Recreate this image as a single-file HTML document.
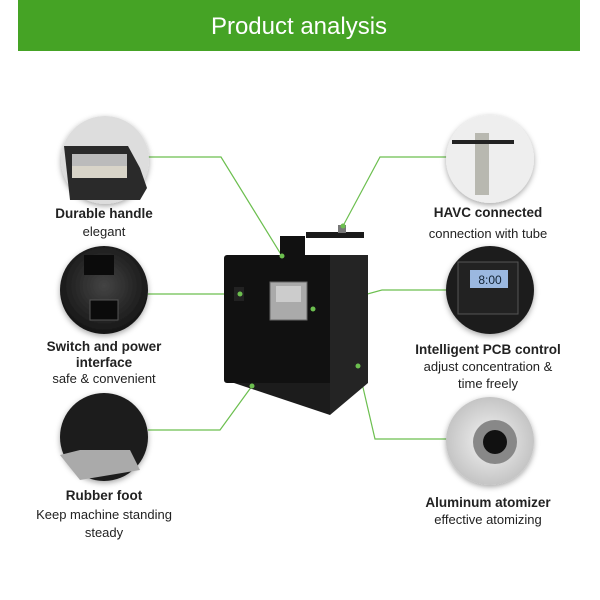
<!DOCTYPE html>
<html><head><meta charset="utf-8"><style>
html,body{margin:0;padding:0;background:#fff;width:600px;height:600px;overflow:hidden}
svg{display:block}
text{font-family:"Liberation Sans",sans-serif;fill:#222;text-anchor:middle}
.b{font-weight:bold;font-size:13.5px}
.n{font-size:13px}
</style></head><body>
<svg width="600" height="600" viewBox="0 0 600 600">
<defs>
<radialGradient id="cg" cx="50%" cy="45%" r="60%"><stop offset="0" stop-color="#444"/><stop offset="1" stop-color="#111"/></radialGradient>
<radialGradient id="lg" cx="50%" cy="50%" r="60%"><stop offset="0" stop-color="#f4f4f4"/><stop offset="1" stop-color="#bbb"/></radialGradient>
<filter id="sh" x="-30%" y="-30%" width="160%" height="160%"><feDropShadow dx="0" dy="2" stdDeviation="3" flood-color="#000" flood-opacity="0.35"/></filter>
</defs>
<rect x="18" y="0" width="562" height="51" fill="#45a325"/>
<text x="299" y="34" style="fill:#fff;font-size:24px">Product analysis</text>

<g stroke="#6cbf4f" stroke-width="1.2" fill="none">
<polyline points="148,157 221,157 282,256"/>
<polyline points="448,157 380,157 343,226"/>
<polyline points="148,294 240,294"/>
<polyline points="448,290 382,290 313,309"/>
<polyline points="148,430 220,430 252,386"/>
<polyline points="448,439 375,439 358,366"/>
</g>

<g filter="url(#sh)">
<circle cx="105" cy="160" r="44" fill="#ddd"/>
<circle cx="104" cy="290" r="44" fill="url(#cg)"/>
<circle cx="104" cy="437" r="44" fill="#1a1a1a"/>
<circle cx="490" cy="159" r="44" fill="#eee"/>
<circle cx="490" cy="290" r="44" fill="#1c1c1c"/>
<circle cx="490" cy="441" r="44" fill="url(#lg)"/>
</g>
<path d="M64,146 L128,146 L140,168 L147,188 L140,200 L70,200 Z" fill="#2a2a2a"/>
<rect x="72" y="154" width="55" height="12" fill="#bbb"/>
<rect x="72" y="166" width="55" height="12" fill="#d8d4c8"/>
<rect x="84" y="255" width="30" height="20" fill="#0b0b0b"/>
<rect x="90" y="300" width="28" height="20" fill="#0b0b0b" stroke="#555"/>
<path d="M60,455 L80,450 L130,450 L140,470 L80,480 Z" fill="#aaa"/>
<rect x="475" y="133" width="14" height="62" fill="#b8b8b0"/>
<rect x="452" y="140" width="62" height="4" fill="#222"/>
<rect x="458" y="262" width="60" height="52" fill="#222" stroke="#555"/>
<rect x="470" y="270" width="38" height="18" fill="#9bb8e0"/>
<text x="490" y="284" style="font-size:12px;fill:#123">8:00</text>
<circle cx="495" cy="442" r="22" fill="#888"/>
<circle cx="495" cy="442" r="12" fill="#111"/>

<path d="M280,236 L305,236 L305,256 L280,256 Z" fill="#111"/>
<rect x="306" y="232" width="58" height="6" fill="#1a1a1a"/>
<rect x="338" y="225" width="8" height="8" fill="#777"/>
<rect x="224" y="255" width="110" height="128" rx="3" fill="#111"/>
<path d="M330,255 L368,255 L368,383 L330,415 Z" fill="#242424"/>
<path d="M234,383 L330,383 L330,415 L240,385 Z" fill="#1c1c1c"/>
<rect x="270" y="282" width="37" height="38" fill="#aaa" stroke="#666"/>
<rect x="276" y="286" width="25" height="16" fill="#ccc"/>
<rect x="234" y="287" width="10" height="14" fill="#222"/>
<g fill="#6cbf4f"><circle cx="282" cy="256" r="2.5"/><circle cx="343" cy="226" r="2.5"/><circle cx="240" cy="294" r="2.5"/><circle cx="313" cy="309" r="2.5"/><circle cx="252" cy="386" r="2.5"/><circle cx="358" cy="366" r="2.5"/></g>

<text class="b" x="104" y="218">Durable handle</text>
<text class="n" x="104" y="236">elegant</text>
<text class="b" x="104" y="351">Switch and power</text>
<text class="b" x="104" y="367">interface</text>
<text class="n" x="104" y="383">safe &amp; convenient</text>
<text class="b" x="104" y="500">Rubber foot</text>
<text class="n" x="104" y="519">Keep machine standing</text>
<text class="n" x="104" y="537">steady</text>

<text class="b" x="488" y="217">HAVC connected</text>
<text class="n" x="488" y="238">connection with tube</text>
<text class="b" x="488" y="354">Intelligent PCB control</text>
<text class="n" x="488" y="371">adjust concentration &amp;</text>
<text class="n" x="488" y="388">time freely</text>
<text class="b" x="488" y="507">Aluminum atomizer</text>
<text class="n" x="488" y="524">effective atomizing</text>
</svg>
</body></html>
